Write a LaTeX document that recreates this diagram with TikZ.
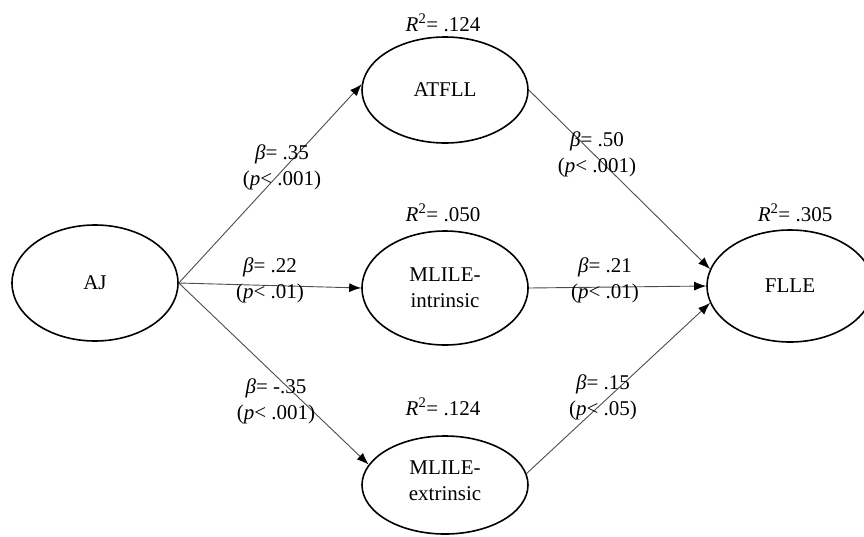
\documentclass[tikz,border=0pt]{standalone}
\usepackage{fontspec}
\setmainfont{Liberation Serif}
\usetikzlibrary{arrows.meta,shapes.geometric}
\begin{document}
\begin{tikzpicture}[x=1pt,y=-1pt,
  font=\fontsize{21}{26}\selectfont,
  latent/.style={ellipse, draw=black, line width=1.6pt, minimum width=166pt, inner sep=0pt, align=center},
  conn/.style={draw=black!70, line width=0.9pt, -{Latex[length=12pt,width=9pt,color=black]}},
  lab/.style={align=center, inner sep=0pt}]
\useasboundingbox (0,0) rectangle (864,536);
% nodes
\node[latent, minimum height=116pt] (AJ) at (95,283) {AJ};
\node[latent, minimum height=106pt] (ATFLL) at (445,90) {ATFLL};
\node[latent, minimum height=114pt] (MIN) at (445,288) {MLILE-\\intrinsic};
\node[latent, minimum height=98pt] (MEX) at (445,485) {};
\node[lab] (MEXt) at (445,481) {MLILE-\\extrinsic};
\node[latent, minimum height=112pt] (FLLE) at (790,286) {FLLE};
% R squared
\node[lab] (r1) at (443,23) {\textit{R}\textsuperscript{2}= .124};
\node[lab] (r2) at (443,213) {\textit{R}\textsuperscript{2}= .050};
\node[lab] (r3) at (443,407) {\textit{R}\textsuperscript{2}= .124};
\node[lab] (r4) at (795,213) {\textit{R}\textsuperscript{2}= .305};
% connectors
\draw[conn] (AJ.east) -- (ATFLL.176);
\draw[conn] (AJ.east) -- (MIN.west);
\draw[conn] (AJ.east) -- (MEX.165);
\draw[conn] (ATFLL.east) -- (FLLE.168);
\draw[conn] (MIN.east) -- (FLLE.west);
\draw[conn] (MEX.8) -- (FLLE.192);
% path labels
\node[lab] (b1) at (282,167) {\textit{β}= .35\\(\textit{p}< .001)};
\node[lab] (b2) at (270,280) {\textit{β}= .22\\(\textit{p}< .01)};
\node[lab] (b3) at (276,401) {\textit{β}= -.35\\(\textit{p}< .001)};
\node[lab] (b4) at (597,154) {\textit{β}= .50\\(\textit{p}< .001)};
\node[lab] (b5) at (605,280) {\textit{β}= .21\\(\textit{p}< .01)};
\node[lab] (b6) at (603,397) {\textit{β}= .15\\(\textit{p}< .05)};
\end{tikzpicture}
\end{document}
